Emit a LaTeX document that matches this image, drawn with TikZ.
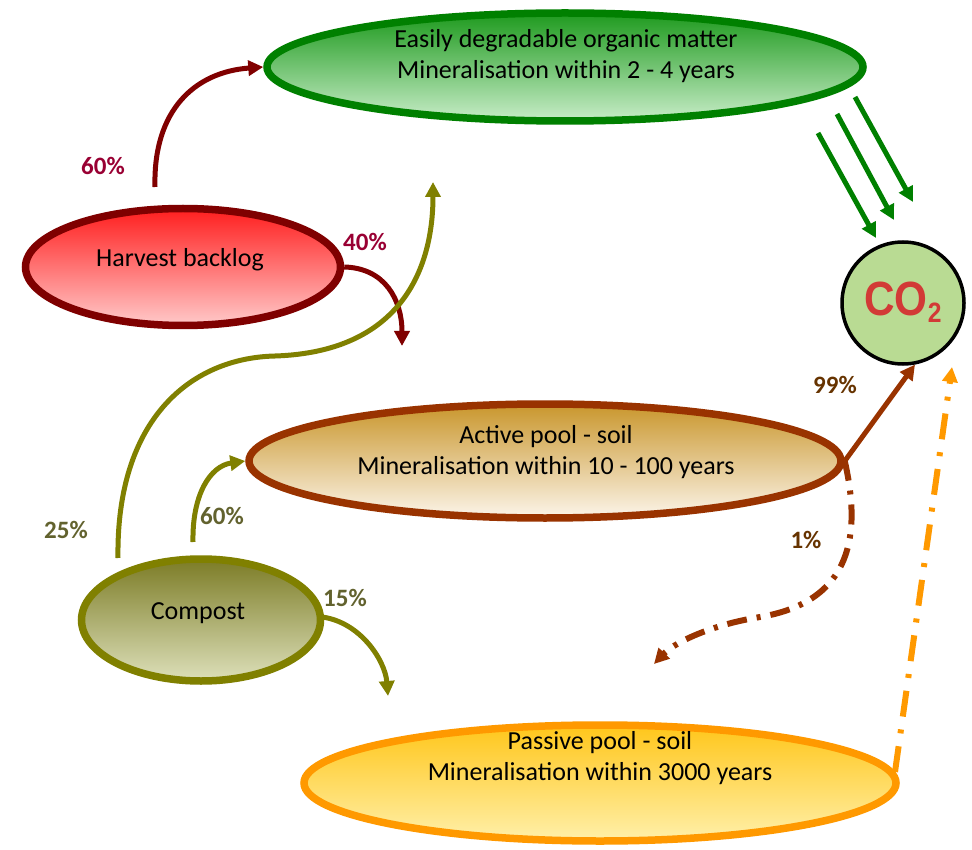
\documentclass[tikz,border=0pt]{standalone}
\usepackage{fontspec}
\setmainfont{Carlito}
\newfontfamily\cofont{Liberation Sans}
\usetikzlibrary{shapes.geometric,arrows.meta}
\definecolor{gborder}{HTML}{008000}
\definecolor{gtop}{HTML}{1E9A1E}
\definecolor{gbot}{HTML}{C8EDC8}
\definecolor{hborder}{HTML}{7F0000}
\definecolor{htop}{HTML}{FF1E1E}
\definecolor{hbot}{HTML}{FFCACA}
\definecolor{aborder}{HTML}{993300}
\definecolor{atop}{HTML}{C9962C}
\definecolor{abot}{HTML}{FCF5EA}
\definecolor{cborder}{HTML}{808000}
\definecolor{ctop}{HTML}{7C7C26}
\definecolor{cbot}{HTML}{DDE0BA}
\definecolor{pborder}{HTML}{FF9900}
\definecolor{ptop}{HTML}{FFC61A}
\definecolor{pbot}{HTML}{FFF0AA}
\definecolor{cofill}{HTML}{B9DB93}
\definecolor{cored}{HTML}{D23A36}
\definecolor{hlab}{HTML}{990033}
\definecolor{clab}{HTML}{62622E}
\definecolor{alab}{HTML}{663300}
\definecolor{harrow}{HTML}{800000}
\definecolor{oarrow}{HTML}{808000}
\definecolor{garrow}{HTML}{008000}
\definecolor{barrow}{HTML}{993300}
\definecolor{orarrow}{HTML}{FF9900}
\tikzset{
  pool/.style={ellipse, line width=7.5pt, inner sep=0pt, shading=axis, shading angle=0},
  txt/.style={align=center, font=\fontsize{26}{31}\selectfont, text=black},
  pct/.style={font=\fontsize{25}{25}\selectfont\bfseries},
  tip/.style={-{Triangle[length=15pt,width=15pt]}},
  flow/.style={tip, line width=5pt},
}
\begin{document}
\begin{tikzpicture}[x=1pt,y=-1pt]
\useasboundingbox (0,0) rectangle (972,850);

% pools
\node[pool, draw=gborder, top color=gtop, bottom color=gbot, minimum width=596pt, minimum height=108pt] (green) at (565,67) {};
\node[pool, draw=hborder, top color=htop, bottom color=hbot, minimum width=315pt, minimum height=117pt] (harv) at (183,267) {};
\node[pool, draw=aborder, top color=atop, bottom color=abot, minimum width=592pt, minimum height=114pt] (active) at (545,461) {};
\node[pool, draw=cborder, top color=ctop, bottom color=cbot, minimum width=239pt, minimum height=122pt] (comp) at (201,620) {};
\node[pool, draw=pborder, top color=ptop, bottom color=pbot, minimum width=592pt, minimum height=116pt] (passive) at (600,783) {};
\node[circle, draw=black, line width=3.5pt, fill=cofill, minimum size=122pt, inner sep=0pt] (co2) at (903,303) {};

% texts
\node[txt] (greent) at (566,56) {Easily degradable organic matter\\Mineralisation within 2 - 4 years};
\node[txt] (harvt) at (180,260) {Harvest backlog};
\node[txt] (activet) at (546,452) {Active pool - soil\\Mineralisation within 10 - 100 years};
\node[txt] (compt) at (198,613) {Compost};
\node[txt] (passivet) at (600,758) {Passive pool - soil\\Mineralisation within 3000 years};
\node[text=cored, inner sep=0pt] (co2t) at (903,302) {\scalebox{0.88}[1]{\cofont\bfseries\fontsize{48}{48}\selectfont CO\raisebox{-7pt}{\fontsize{28}{28}\selectfont 2}}};

% percentage labels
\node[pct, text=hlab] (l60h) at (103,166) {60\%};
\node[pct, text=hlab] (l40h) at (365,242) {40\%};
\node[pct, text=clab] (l25c) at (66,530) {25\%};
\node[pct, text=clab] (l60c) at (222,516) {60\%};
\node[pct, text=clab] (l15c) at (345,598) {15\%};
\node[pct, text=alab] (l99a) at (835,385) {99\%};
\node[pct, text=alab] (l1a) at (806,540) {1\%};

% free ends
\coordinate (h60s) at (155,187);
\coordinate (h40e) at (402,346);
\coordinate (c25s) at (118,558);
\coordinate (c25e) at (433,182);
\coordinate (c60s) at (193,542);
\coordinate (c15s) at (322,617);
\coordinate (c15e) at (388,696);
\coordinate (a1e) at (654,664);
\coordinate (poe) at (952,367);
\coordinate (pos) at (895,772);
\coordinate (g1s) at (818,133);
\coordinate (g1e) at (876,238);
\coordinate (g2s) at (837,114);
\coordinate (g2e) at (894,220);
\coordinate (g3s) at (855,97);
\coordinate (g3e) at (913,202);

% harvest flows
\draw[flow, harrow] (h60s) .. controls (153,110) and (195,72) .. (green.west);
\draw[flow, harrow] (harv.east) .. controls (385,268) and (402,300) .. (h40e);

% compost flows
\draw[flow, oarrow] (c25s) .. controls (116,420) and (190,358) .. (275,356)
  .. controls (400,352) and (433,270) .. (c25e);
\draw[flow, oarrow] (c60s) .. controls (192,495) and (210,466) .. (active.west);
\draw[flow, oarrow] (c15s) .. controls (360,622) and (385,660) .. (c15e);

% to CO2
\draw[flow, garrow] (g1s) -- (g1e);
\draw[flow, garrow] (g2s) -- (g2e);
\draw[flow, garrow] (g3s) -- (g3e);
\draw[flow, barrow] (active.east) -- (co2.-79);

% dash-dot flows
\draw[flow, barrow, line width=6pt, dash pattern=on 20pt off 10pt on 4pt off 10pt]
  (active.east) .. controls (858,520) and (862,600) .. (760,617)
  .. controls (705,626) and (672,645) .. (a1e);
\draw[flow, orarrow, line width=6pt, dash pattern=on 26pt off 13pt on 4pt off 13pt] (pos) -- (poe);
\end{tikzpicture}
\end{document}
